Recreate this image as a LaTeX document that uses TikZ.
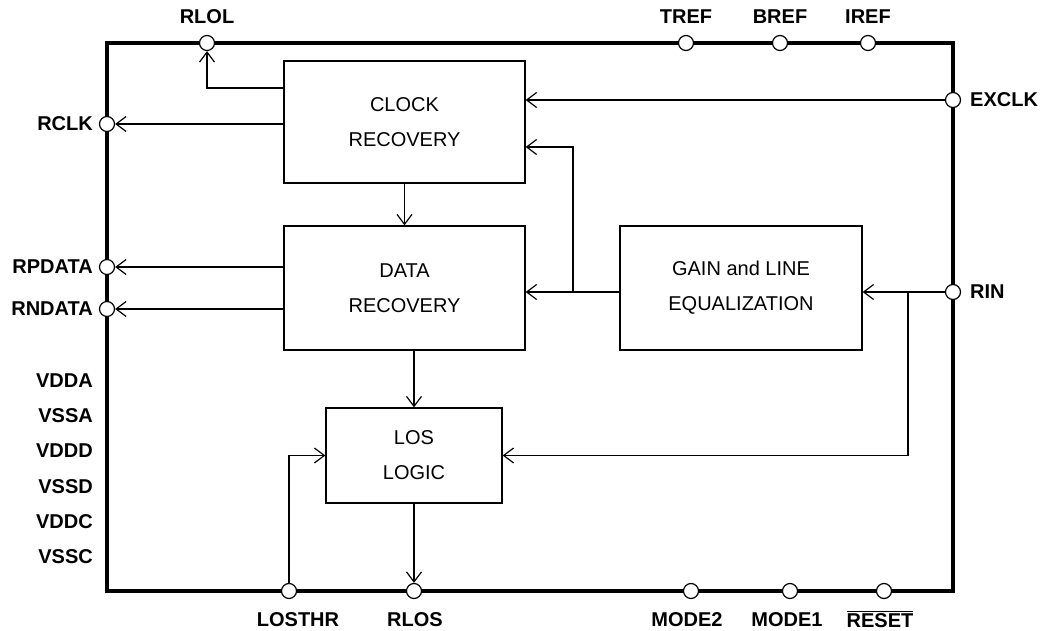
\documentclass[tikz,border=0pt]{standalone}
\usepackage{fontspec}
\setmainfont{Liberation Sans}
\usetikzlibrary{arrows.meta,calc}
\tikzset{
  blk/.style={draw,line width=1.2pt,inner sep=0pt,align=center,font=\fontsize{20}{35}\selectfont},
  pinc/.style={circle,draw,fill=white,line width=1.2pt,minimum size=15pt,inner sep=0pt},
  lbl/.style={font=\fontsize{20}{24}\selectfont\bfseries,inner sep=0pt},
  arr/.style={line width=1.2pt,-{Straight Barb[length=10pt,width=15pt,line width=1.2pt]}},
  wire/.style={line width=1.2pt},
}
\begin{document}
\begin{tikzpicture}[x=1pt,y=-1pt]
\useasboundingbox (0,0) rectangle (1041,631);
% outer chip boundary
\draw[line width=4pt,line join=miter] (107,43) rectangle (953,591);
% blocks
\node[blk,minimum width=241pt,minimum height=122pt] (clock) at (404.5,122) {CLOCK\\RECOVERY};
\node[blk,minimum width=241pt,minimum height=124pt] (data) at (404.5,288) {DATA\\RECOVERY};
\node[blk,minimum width=242pt,minimum height=124pt] (gain) at (741,288) {GAIN and LINE\\EQUALIZATION};
\node[blk,minimum width=176pt,minimum height=95pt] (los) at (414,455.5) {LOS\\LOGIC};
% pins
\node[pinc] (rlol) at (207,43) {};
\node[pinc] (tref) at (686,43) {};
\node[pinc] (bref) at (780,43) {};
\node[pinc] (iref) at (868,43) {};
\node[pinc] (exclk) at (953,100) {};
\node[pinc] (rin) at (953,292) {};
\node[pinc] (rclk) at (107,124) {};
\node[pinc] (rpdata) at (107,267) {};
\node[pinc] (rndata) at (107,309) {};
\node[pinc] (losthr) at (289,591) {};
\node[pinc] (rlos) at (414,591) {};
\node[pinc] (mode2) at (691,591) {};
\node[pinc] (mode1) at (790,591) {};
\node[pinc] (reset) at (884,591) {};
% labels
\node[lbl] (lrlol) at (207,17) {RLOL};
\node[lbl] (ltref) at (686,17) {TREF};
\node[lbl] (lbref) at (780,17) {BREF};
\node[lbl] (liref) at (868,17) {IREF};
\node[lbl,anchor=west] (lexclk) at (970,100) {EXCLK};
\node[lbl,anchor=west] (lrin) at (970,292) {RIN};
\node[lbl,anchor=east] (lrclk) at (93,124) {RCLK};
\node[lbl,anchor=east] (lrpdata) at (93,267) {RPDATA};
\node[lbl,anchor=east] (lrndata) at (93,309) {RNDATA};
\node[lbl,anchor=east] (lvdda) at (93,381) {VDDA};
\node[lbl,anchor=east] (lvssa) at (93,416) {VSSA};
\node[lbl,anchor=east] (lvddd) at (93,451) {VDDD};
\node[lbl,anchor=east] (lvssd) at (93,487) {VSSD};
\node[lbl,anchor=east] (lvddc) at (93,522) {VDDC};
\node[lbl,anchor=east] (lvssc) at (93,557) {VSSC};
\node[lbl] (llosthr) at (298,620) {LOSTHR};
\node[lbl] (lrlos) at (415,620) {RLOS};
\node[lbl] (lmode2) at (687,620) {MODE2};
\node[lbl] (lmode1) at (787,620) {MODE1};
\node[lbl,anchor=base] (lreset) at (880,627) {$\overline{\mbox{\bfseries RESET}}$};
% branch points
\coordinate (br1) at (573,292);
\coordinate (br2) at (908,292);
% connectors
\draw[arr] ([yshift=34pt]clock.west) -| (rlol);
\draw[arr] (clock.west |- rclk) -- (rclk);
\draw[arr] (exclk) -- (exclk -| clock.east);
\draw[arr] (clock.south) -- (data.north);
\draw[arr] (data.west |- rpdata) -- (rpdata);
\draw[arr] (data.west |- rndata) -- (rndata);
\draw[arr] (gain.west |- rin) -- (data.east |- rin);
\draw[arr] (br1) |- ([yshift=-25pt]clock.east);
\draw[arr] (rin) -- (gain.east |- rin);
\draw[arr] (br2) |- (los);
\draw[arr] (los.north |- data.south) -- (los.north);
\draw[arr] (los.south) -- (rlos);
\draw[arr] (losthr) |- (los);
\end{tikzpicture}
\end{document}
